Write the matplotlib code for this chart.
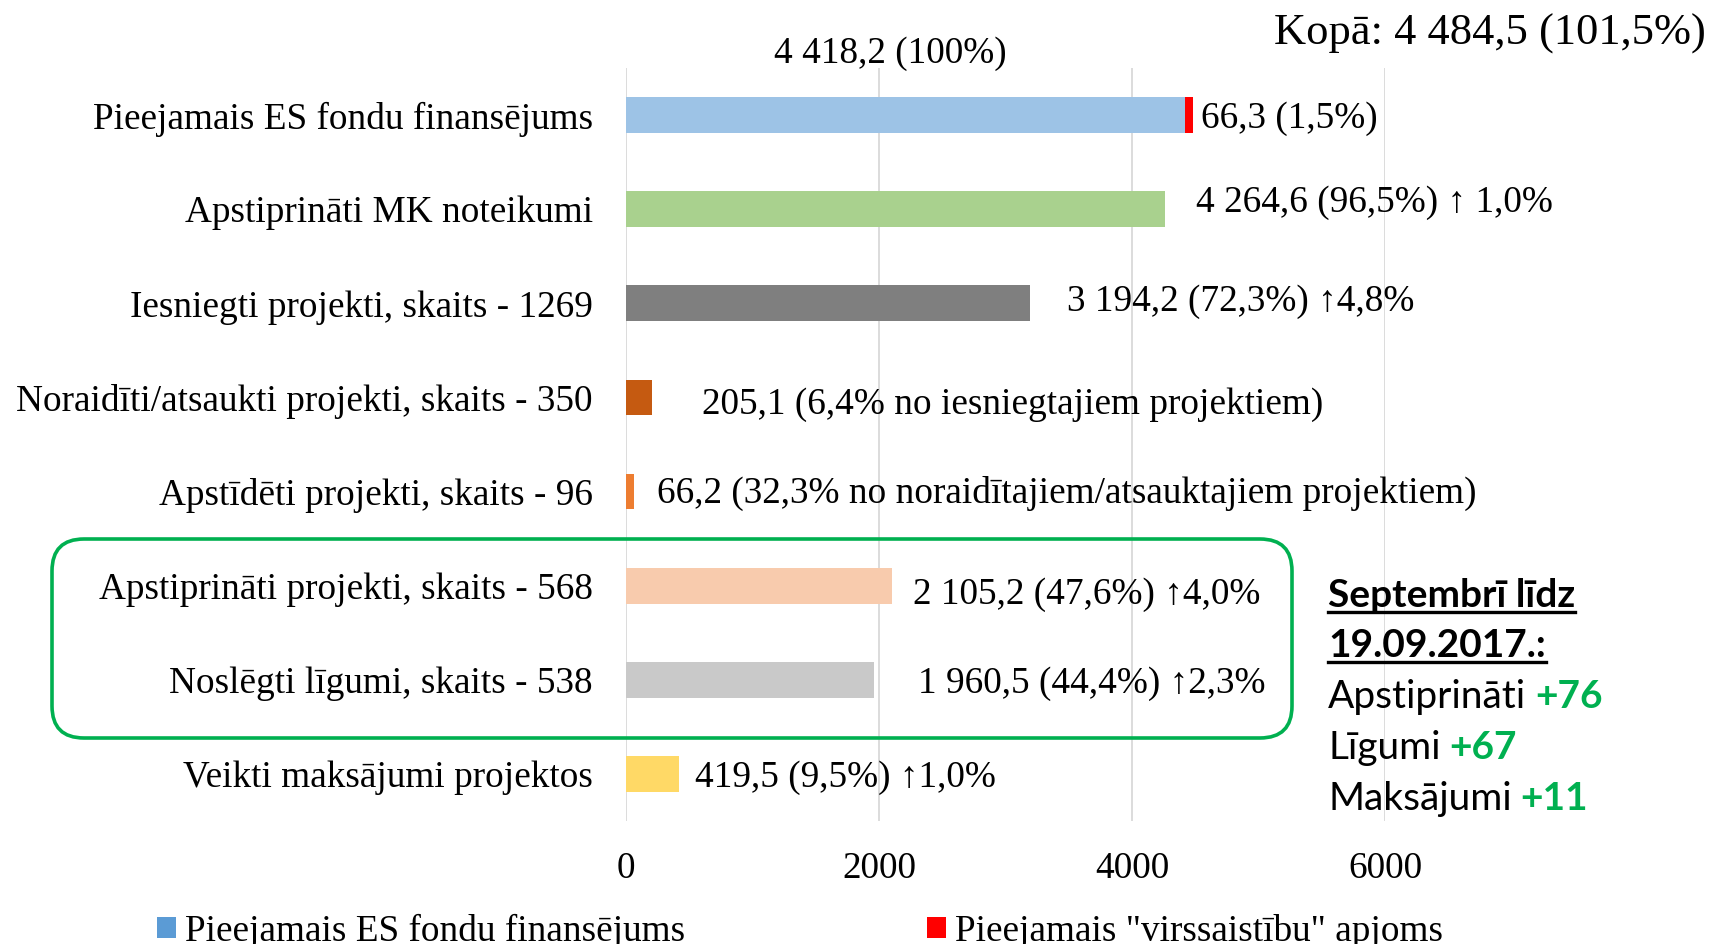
import matplotlib
matplotlib.use("Agg")
import matplotlib.pyplot as plt
from matplotlib.patches import FancyBboxPatch, Patch
from matplotlib.lines import Line2D
from matplotlib.transforms import IdentityTransform

# ---------------- data ----------------
categories = [
    "Pieejamais ES fondu finansējums",
    "Apstiprināti MK noteikumi",
    "Iesniegti projekti, skaits - 1269",
    "Noraidīti/atsaukti projekti, skaits - 350",
    "Apstīdēti projekti, skaits - 96",
    "Apstiprināti projekti, skaits - 568",
    "Noslēgti līgumi, skaits - 538",
    "Veikti maksājumi projektos",
]
values = [4418.2, 4264.6, 3194.2, 205.1, 66.2, 2105.2, 1960.5, 419.5]
overcommit = 66.3
value_labels = [
    "66,3 (1,5%)",
    "4 264,6 (96,5%) \u2191 1,0%",
    "3 194,2 (72,3%) \u21914,8%",
    "205,1 (6,4% no iesniegtajiem projektiem)",
    "66,2 (32,3% no noraidītajiem/atsauktajiem projektiem)",
    "2 105,2 (47,6%) \u21914,0%",
    "1 960,5 (44,4%) \u21912,3%",
    "419,5 (9,5%) \u21911,0%",
]
top_label = "4 418,2 (100%)"
total_label = "Kopā: 4 484,5 (101,5%)"
legend_labels = ["Pieejamais ES fondu finansējums", 'Pieejamais "virssaistību" apjoms']
xticks = [0, 2000, 4000, 6000]
box_title = ["Septembrī līdz", "19.09.2017.:"]
box_items = ["Apstiprināti", "Līgumi", "Maksājumi"]
box_values = ["+76", "+67", "+11"]

# ---------------- style ----------------
bar_colors = ["#9DC3E6", "#A9D18E", "#7F7F7F", "#C55A11", "#ED7D31",
              "#F8CBAD", "#C9C9C9", "#FFD966"]
red = "#FF0000"
legend_blue = "#5B9BD5"
green = "#00B050"
# label offsets in pixels (dx, dy up) from bar end
label_offsets = [(8, 0), (31, 10), (37, 5), (50, -4), (23, 2), (21, -6), (44, 0), (16, 0)]
dy_shift = -3.5

W, H, DPI = 1712, 944, 100
fig = plt.figure(figsize=(W / DPI, H / DPI), dpi=DPI)
serif = "Liberation Serif"
fs = 26.8

ax = fig.add_axes([626 / W, 1 - 821 / H, 759 / W, 753 / H])
y = list(range(len(categories)))
ax.barh(y, values, height=0.38, color=bar_colors, zorder=3)
ax.barh(0, overcommit, left=values[0], height=0.38, color=red, zorder=3)
ax.set_xlim(0, 6000)
ax.set_ylim(len(categories) - 0.5, -0.5)
ax.set_xticks(xticks)
ax.set_xticklabels([str(t) for t in xticks], fontfamily=serif, fontsize=fs)
ax.set_yticks(y)
ax.set_yticklabels(categories, fontfamily=serif, fontsize=fs)
ax.tick_params(axis="both", length=0)
ax.tick_params(axis="y", pad=24)
ax.tick_params(axis="x", pad=22)
ax.grid(axis="x", color="#D9D9D9", linewidth=1.3, zorder=0)
for s in ax.spines.values():
    s.set_visible(False)

for i, (v, lab, (dx, dy)) in enumerate(zip(values, value_labels, label_offsets)):
    end = v + (overcommit if i == 0 else 0)
    ax.annotate(lab, xy=(end, i), xytext=(dx * 0.72, (dy + dy_shift) * 0.72),
                textcoords="offset points", ha="left", va="center",
                fontfamily=serif, fontsize=fs, annotation_clip=False)

ax.annotate(top_label, xy=(values[0] / 2, 0), xytext=(-15 * 0.72, 61 * 0.72),
            textcoords="offset points", ha="center", va="center",
            fontfamily=serif, fontsize=fs, annotation_clip=False)

fig.text(1706 / W, 1 - 34 / H, total_label, ha="right", va="center",
         fontfamily=serif, fontsize=32)

# green rounded box (pixels)
box = FancyBboxPatch((52, H - 738), 1240, 199,
                     boxstyle="round,pad=0,rounding_size=32",
                     transform=IdentityTransform(), fill=False,
                     edgecolor=green, linewidth=2.6, zorder=5)
fig.patches.append(box)

# legend
handles = [Patch(facecolor=legend_blue), Patch(facecolor=red)]
fig.legend(handles, legend_labels, loc="center left",
           bbox_to_anchor=(157 / W, 1 - 931 / H), ncol=2, frameon=False,
           prop={"family": serif, "size": fs}, handlelength=0.5,
           handleheight=0.5, handletextpad=0.25, columnspacing=6.5,
           borderaxespad=0, borderpad=0)

# right text box
sans = "Lato"
bfs = 28
x0 = 1328 / W
lines_y = [597, 647, 698, 749, 800]
title_texts = []
for t, yy in zip(box_title, lines_y[:2]):
    tt = fig.text(x0, 1 - (yy + 10) / H, t, ha="left", va="baseline",
                  fontfamily=sans, fontsize=bfs, fontweight="bold")
    title_texts.append(tt)
item_texts = []
for t, yy in zip(box_items, lines_y[2:]):
    tt = fig.text(x0, 1 - (yy + 10) / H, t, ha="left", va="baseline",
                  fontfamily=sans, fontsize=bfs)
    item_texts.append(tt)

fig.canvas.draw()
r = fig.canvas.get_renderer()
for tt in title_texts:
    bb = tt.get_window_extent(r)
    fig.add_artist(Line2D([bb.x0, bb.x1], [bb.y0 + 1, bb.y0 + 1],
                          transform=IdentityTransform(), color="black",
                          linewidth=2.4))
for tt, val, yy in zip(item_texts, box_values, lines_y[2:]):
    bb = tt.get_window_extent(r)
    fig.text((bb.x1 + 9) / W, 1 - (yy + 10) / H, val, ha="left", va="baseline",
             fontfamily=sans, fontsize=bfs, fontweight="bold", color=green)

fig.savefig("out.png", dpi=DPI)
